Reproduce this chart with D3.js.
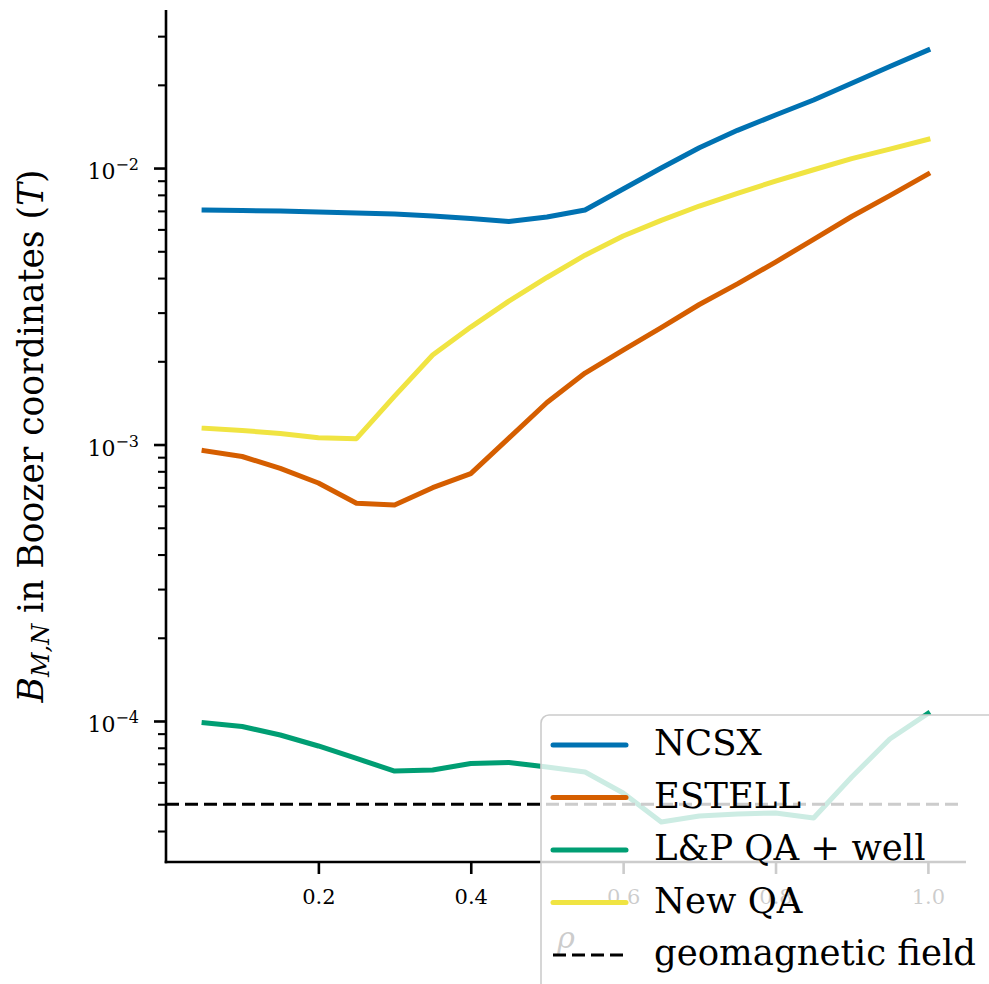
<!DOCTYPE html>
<html>
<head>
<meta charset="utf-8">
<script src="https://cdn.jsdelivr.net/npm/d3@7"></script>
<style>
  html, body { margin: 0; padding: 0; background: #fff; }
  svg { display: block; }
  text { font-family: "DejaVu Serif", serif; fill: #000; }
</style>
</head>
<body>
<svg id="chart" width="989" height="984"></svg>
<script>
// Radial coordinate rho
const rho = [0.05, 0.10, 0.15, 0.20, 0.25, 0.30, 0.35, 0.40, 0.45, 0.50,
             0.55, 0.60, 0.65, 0.70, 0.75, 0.80, 0.85, 0.90, 0.95, 1.00];

// Largest symmetry-breaking Boozer harmonic B_{M,N} (T) per configuration
const ncsx = [7.05e-3, 7.02e-3, 6.99e-3, 6.93e-3, 6.88e-3, 6.82e-3, 6.71e-3, 6.57e-3, 6.41e-3, 6.65e-3,
              7.05e-3, 8.40e-3, 1.00e-2, 1.184e-2, 1.369e-2, 1.555e-2, 1.762e-2, 2.028e-2, 2.331e-2, 2.671e-2];
const estell = [9.50e-4, 9.05e-4, 8.20e-4, 7.26e-4, 6.13e-4, 6.04e-4, 6.98e-4, 7.85e-4, 1.055e-3, 1.419e-3,
                1.814e-3, 2.197e-3, 2.649e-3, 3.21e-3, 3.81e-3, 4.57e-3, 5.52e-3, 6.68e-3, 7.95e-3, 9.51e-3];
const lpQaWell = [9.86e-5, 9.55e-5, 8.90e-5, 8.12e-5, 7.32e-5, 6.59e-5, 6.65e-5, 7.02e-5, 7.08e-5, 6.82e-5,
                  6.54e-5, 5.49e-5, 4.31e-5, 4.53e-5, 4.61e-5, 4.65e-5, 4.46e-5, 6.27e-5, 8.61e-5, 1.064e-4];
const newQa = [1.145e-3, 1.124e-3, 1.096e-3, 1.058e-3, 1.050e-3, 1.497e-3, 2.107e-3, 2.66e-3, 3.30e-3, 4.02e-3,
               4.84e-3, 5.68e-3, 6.47e-3, 7.29e-3, 8.10e-3, 8.97e-3, 9.86e-3, 1.082e-2, 1.171e-2, 1.27e-2];

// Earth's field reference level (T)
const geomagnetic = 5e-5;

const seriesNames = ["NCSX", "ESTELL", "L&P QA + well", "New QA"];
const seriesValues = [ncsx, estell, lpQaWell, newQa];
const seriesColors = ["#0072B2", "#D55E00", "#009E73", "#F0E442"];
const geoLabel = "geomagnetic field";

const xTicks = [0.2, 0.4, 0.6, 0.8, 1.0];
const yMajorTicks = [1e-4, 1e-3, 1e-2];

const svg = d3.select("#chart");

const plot = { left: 166, right: 966, top: 10, bottom: 862 };

const x = d3.scaleLinear().domain([0, 1.05]).range([plot.left, plot.right]);
const y = d3.scaleLog().domain([3.09e-5, 0.0373]).range([plot.bottom, plot.top]);

const LW = 5;
const AXW = 2.6;

// Data lines
const line = d3.line().x((d, i) => x(rho[i])).y(d => y(d));
seriesValues.forEach((vals, k) => {
  svg.append("path")
    .datum(vals)
    .attr("d", line)
    .attr("fill", "none")
    .attr("stroke", seriesColors[k])
    .attr("stroke-width", LW)
    .attr("stroke-linejoin", "round")
    .attr("stroke-linecap", "square");
});

// Geomagnetic reference
svg.append("line")
  .attr("x1", x(0)).attr("x2", x(1.045))
  .attr("y1", y(geomagnetic)).attr("y2", y(geomagnetic))
  .attr("stroke", "#000")
  .attr("stroke-width", 3)
  .attr("stroke-dasharray", "13,6");

// Left axis
const yAxis = d3.axisLeft(y)
  .tickValues(yMajorTicks)
  .tickSize(12)
  .tickFormat("");
const gy = svg.append("g").attr("transform", `translate(${plot.left},0)`).call(yAxis);
gy.select(".domain").remove();
gy.selectAll(".tick line").attr("stroke", "#000").attr("stroke-width", AXW);

// minor ticks on the log axis
const yMinor = [];
[-5, -4, -3, -2].forEach(e => {
  for (let m = 2; m <= 9; m++) {
    const v = m * Math.pow(10, e);
    if (v >= y.domain()[0] && v <= y.domain()[1]) yMinor.push(v);
  }
});
const yAxisMinor = d3.axisLeft(y).tickValues(yMinor).tickSize(8).tickFormat("");
const gym = svg.append("g").attr("transform", `translate(${plot.left},0)`).call(yAxisMinor);
gym.select(".domain").remove();
gym.selectAll(".tick line").attr("stroke", "#000").attr("stroke-width", AXW * 0.8);

// Major tick labels as 10^n
yMajorTicks.forEach(v => {
  const exp = Math.round(Math.log10(v));
  const t = svg.append("text")
    .attr("x", 139)
    .attr("y", y(v) + 11)
    .attr("text-anchor", "end")
    .attr("font-size", 22);
  t.append("tspan").text("10");
  t.append("tspan").attr("dy", -9).attr("font-size", 16).text("\u2212" + Math.abs(exp));
});

// Bottom axis
const xAxis = d3.axisBottom(x).tickValues(xTicks).tickSize(12).tickFormat(d3.format(".1f"));
const gx = svg.append("g").attr("transform", `translate(0,${plot.bottom})`).call(xAxis);
gx.select(".domain").remove();
gx.selectAll(".tick line").attr("stroke", "#000").attr("stroke-width", AXW);
gx.selectAll(".tick text")
  .attr("font-family", "DejaVu Serif, serif")
  .attr("font-size", 21)
  .attr("fill", "#000")
  .attr("y", 0).attr("dy", 0)
  .attr("transform", "translate(0,42)");

// Spines (left and bottom only)
svg.append("line")
  .attr("x1", plot.left).attr("x2", plot.left)
  .attr("y1", plot.top).attr("y2", plot.bottom + AXW / 2)
  .attr("stroke", "#000").attr("stroke-width", AXW);
svg.append("line")
  .attr("x1", plot.left - AXW / 2).attr("x2", plot.right)
  .attr("y1", plot.bottom).attr("y2", plot.bottom)
  .attr("stroke", "#000").attr("stroke-width", AXW);

// Axis labels
svg.append("text")
  .attr("x", (plot.left + plot.right) / 2)
  .attr("y", 948)
  .attr("text-anchor", "middle")
  .attr("font-size", 30)
  .attr("font-style", "italic")
  .text("\u03C1");

const yl = svg.append("text")
  .attr("transform", `translate(43,${(plot.top + plot.bottom) / 2}) rotate(-90)`)
  .attr("text-anchor", "middle")
  .attr("font-size", 34.5);
yl.append("tspan").attr("font-style", "italic").text("B");
yl.append("tspan").attr("font-style", "italic").attr("font-size", 24).attr("dy", 6).text("M,N");
yl.append("tspan").attr("dy", -6).text(" in Boozer coordinates (");
yl.append("tspan").attr("font-style", "italic").text("T");
yl.append("tspan").text(")");

// Legend
const legend = svg.append("g");
legend.append("rect")
  .attr("x", 541).attr("y", 715)
  .attr("width", 470).attr("height", 300)
  .attr("rx", 8).attr("ry", 8)
  .attr("fill", "#fff").attr("fill-opacity", 0.8)
  .attr("stroke", "#cccccc").attr("stroke-width", 1.6);

const legendItems = seriesNames.map((n, i) => ({ name: n, color: seriesColors[i], dash: null, w: LW }))
  .concat([{ name: geoLabel, color: "#000", dash: "13,6", w: 3 }]);
const rowStep = 52.5;
legendItems.forEach((it, i) => {
  const cy = 745 + i * rowStep;
  legend.append("line")
    .attr("x1", 553).attr("x2", 626)
    .attr("y1", cy).attr("y2", cy)
    .attr("stroke", it.color)
    .attr("stroke-width", it.w)
    .attr("stroke-linecap", it.dash ? "butt" : "round")
    .attr("stroke-dasharray", it.dash);
  legend.append("text")
    .attr("x", 654)
    .attr("y", cy + 10)
    .attr("font-size", 35.5)
    .text(it.name);
});
</script>
</body>
</html>
